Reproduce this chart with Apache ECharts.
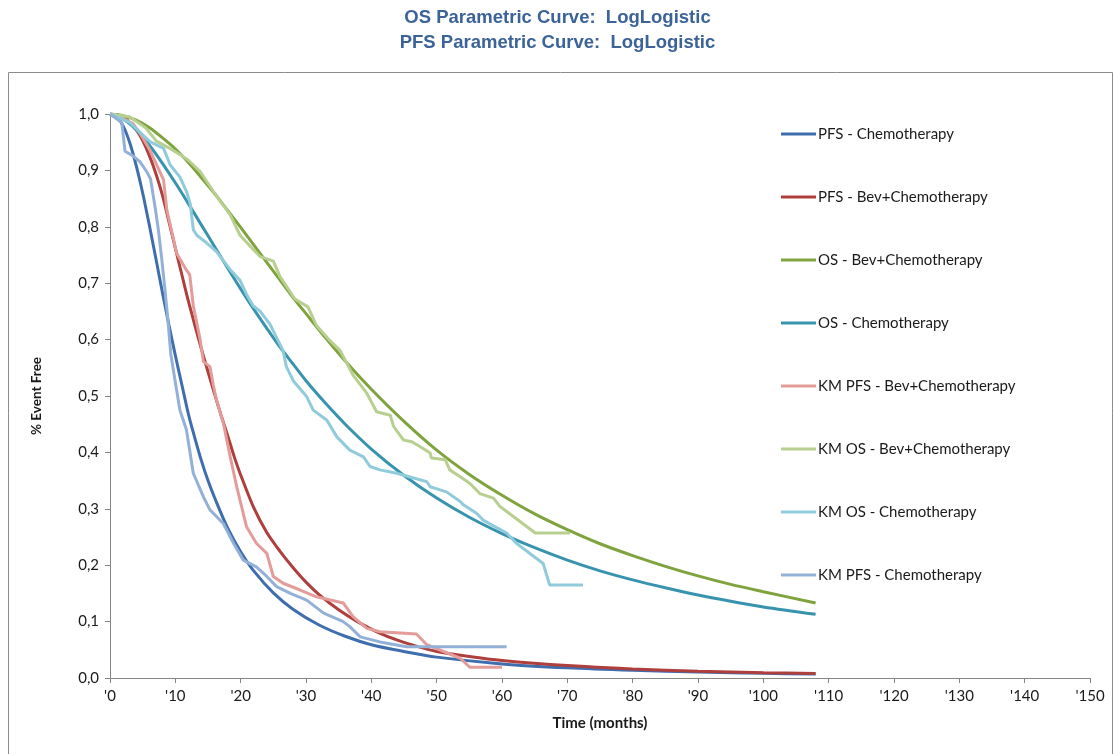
<!DOCTYPE html>
<html>
<head>
<meta charset="utf-8">
<script src="https://cdn.jsdelivr.net/npm/echarts@6/dist/echarts.min.js"></script>
<style>
  html, body { margin: 0; padding: 0; background: #fff; }
  #chart { width: 1115px; height: 754px; }
</style>
</head>
<body>
<div id="chart"></div>
<script>
// series names, in the order the legend lists them
const seriesNames = [
  'PFS - Chemotherapy',
  'PFS - Bev+Chemotherapy',
  'OS - Bev+Chemotherapy',
  'OS - Chemotherapy',
  'KM PFS - Bev+Chemotherapy',
  'KM OS - Bev+Chemotherapy',
  'KM OS - Chemotherapy',
  'KM PFS - Chemotherapy'
];

// [months, event free]
const pfsChemo = [[0,1],[1,0.995],[2,0.979],[3,0.95],[4,0.909],[5,0.86],[6,0.804],[7,0.745],[8,0.685],[9,0.627],[10,0.572],[11,0.52],[12,0.468],[13,0.425],[14,0.385],[15,0.35],[16,0.32],[18,0.266],[20,0.224],[22,0.19],[25,0.151],[28,0.122],[32,0.094],[36,0.074],[40,0.059],[45,0.047],[50,0.037],[60,0.025],[70,0.018],[80,0.0136],[90,0.0105],[100,0.0083],[108,0.0071]];

const pfsBev = [[0,1],[2,0.995],[4,0.972],[5,0.953],[6,0.927],[7,0.895],[8,0.857],[9,0.81],[10,0.762],[11,0.715],[12,0.668],[13,0.625],[14,0.583],[15,0.543],[16,0.504],[17,0.466],[18,0.43],[19,0.393],[20,0.36],[22,0.302],[24,0.258],[26,0.225],[28,0.196],[30,0.17],[32,0.148],[35,0.121],[38,0.099],[41,0.081],[44,0.067],[47,0.056],[50,0.047],[55,0.038],[60,0.031],[70,0.022],[80,0.016],[90,0.012],[100,0.0095],[108,0.008]];

const osBev = [[0,1],[2,0.997],[4,0.989],[6,0.976],[8,0.958],[10,0.938],[12,0.914],[14,0.887],[16,0.859],[18,0.829],[20,0.799],[22,0.768],[24,0.737],[26,0.706],[28,0.675],[30,0.646],[33,0.603],[36,0.562],[40,0.512],[45,0.455],[50,0.404],[55,0.361],[60,0.324],[65,0.291],[70,0.263],[75,0.238],[80,0.217],[85,0.198],[90,0.181],[95,0.166],[100,0.153],[108,0.133]];

const osChemo = [[0,1],[2,0.991],[4,0.972],[6,0.945],[8,0.913],[10,0.878],[12,0.841],[14,0.803],[16,0.765],[18,0.727],[20,0.69],[22,0.654],[24,0.62],[26,0.587],[28,0.557],[30,0.527],[33,0.487],[36,0.45],[40,0.406],[45,0.359],[50,0.319],[55,0.285],[60,0.256],[65,0.231],[70,0.209],[75,0.19],[80,0.174],[85,0.16],[90,0.147],[95,0.136],[100,0.126],[108,0.113]];

const kmPfsBev = [[0,1],[1.5,0.995],[3.5,0.983],[4.6,0.966],[6.1,0.936],[8.2,0.883],[8.7,0.83],[10.2,0.753],[11.7,0.723],[12.2,0.715],[12.75,0.66],[13.8,0.6],[14.3,0.561],[15.3,0.552],[15.8,0.52],[16.3,0.493],[17.35,0.452],[18.4,0.392],[19.4,0.339],[20.9,0.268],[22.4,0.239],[24,0.221],[25,0.18],[26.5,0.168],[29.1,0.156],[31.6,0.144],[35.7,0.133],[37.2,0.109],[39.3,0.088],[41.3,0.082],[46.9,0.078],[48.5,0.059],[53.6,0.035],[55.1,0.019],[60,0.019]];

const kmOsBev = [[0,1],[3,0.995],[5.5,0.975],[7.1,0.952],[9,0.94],[10.7,0.928],[12,0.918],[13.8,0.898],[15.8,0.863],[18.4,0.821],[19.9,0.785],[21.5,0.765],[23,0.747],[25,0.739],[26,0.712],[28.3,0.672],[30.3,0.658],[31.6,0.625],[33.5,0.6],[35.2,0.581],[37.2,0.537],[39.3,0.505],[40.8,0.472],[42.9,0.466],[43.4,0.446],[44.9,0.422],[46.2,0.419],[47.5,0.41],[49,0.399],[49.2,0.39],[51.3,0.387],[52,0.369],[53.6,0.357],[55.1,0.345],[56.6,0.327],[58.7,0.319],[59.7,0.304],[65.1,0.257],[70.4,0.257]];

const kmOsChemo = [[0,1],[3,0.985],[6.1,0.951],[8.2,0.939],[9.2,0.91],[10.7,0.888],[11.7,0.863],[12.3,0.84],[12.75,0.795],[13.3,0.785],[14.5,0.774],[16.3,0.756],[18.4,0.724],[19.9,0.705],[20.9,0.68],[21.9,0.66],[23,0.65],[24.5,0.627],[26.5,0.58],[27,0.552],[28.1,0.526],[30.1,0.499],[31.1,0.475],[33.2,0.457],[34.7,0.428],[36.7,0.404],[38.8,0.392],[39.8,0.375],[41.3,0.369],[43.9,0.363],[48.5,0.348],[49,0.339],[51.5,0.33],[53.6,0.313],[54.1,0.307],[56.1,0.292],[57.1,0.28],[60.7,0.257],[62.2,0.239],[66.3,0.203],[67.3,0.165],[72.4,0.165]];

const kmPfsChemo = [[0,1],[1.8,0.985],[2.3,0.934],[3.6,0.925],[4.6,0.915],[5.6,0.898],[6.2,0.885],[6.9,0.835],[7.4,0.795],[7.9,0.745],[8.4,0.69],[8.9,0.63],[9.3,0.575],[9.95,0.528],[10.7,0.475],[11.7,0.44],[12.75,0.363],[14.3,0.321],[15.3,0.298],[17.35,0.274],[18.9,0.239],[20.4,0.209],[22.4,0.197],[24,0.18],[25.5,0.162],[27.6,0.15],[30.1,0.138],[32.7,0.115],[35.7,0.1],[36.7,0.091],[38.3,0.073],[41.3,0.064],[45.4,0.0555],[60.7,0.0555]];

const seriesData = [pfsChemo, pfsBev, osBev, osChemo, kmPfsBev, kmOsBev, kmOsChemo, kmPfsChemo];
const seriesColors = ['#3F6EAE', '#AE3F3C', '#7FA33D', '#3894AE', '#E39C9A', '#B7CF8F', '#90CBDC', '#93B1D8'];
const smoothCurve = [true, true, true, true, false, false, false, false];

const chart = echarts.init(document.getElementById('chart'));

let series = seriesNames.map(function (name, i) {
  return {
    name: name,
    type: 'line',
    data: seriesData[i],
    smooth: smoothCurve[i] ? 0.3 : false,
    showSymbol: false,
    symbol: 'none',
    lineStyle: { color: seriesColors[i], width: 3 },
    itemStyle: { color: seriesColors[i] },
    animation: false
  };
});

chart.setOption({
  backgroundColor: '#fff',
  title: {
    text: 'OS Parametric Curve:  LogLogistic\nPFS Parametric Curve:  LogLogistic',
    left: 'center',
    top: 5,
    padding: 0,
    textStyle: {
      fontFamily: 'Liberation Sans',
      fontSize: 18.5,
      fontWeight: 'bold',
      color: '#3B639A',
      lineHeight: 25
    }
  },
  graphic: [{
    type: 'rect',
    shape: { x: 8.5, y: 72.5, width: 1104, height: 700 },
    style: { fill: 'none', stroke: '#8C8C8C', lineWidth: 1 },
    silent: true
  }],
  legend: {
    orient: 'vertical',
    left: 781,
    top: 125,
    padding: 0,
    itemWidth: 35,
    itemHeight: 3,
    itemGap: 45,
    icon: 'rect',
    data: seriesNames,
    textStyle: {
      fontFamily: 'Lato',
      fontSize: 15,
      color: '#1a1a1a',
      padding: [0, 0, 0, -3],
      lineHeight: 18
    }
  },
  grid: { left: 110, right: 25, top: 114, bottom: 76 },
  xAxis: {
    type: 'value',
    min: 0,
    max: 150,
    interval: 10,
    name: 'Time (months)',
    nameLocation: 'middle',
    nameGap: 38,
    nameTextStyle: { fontFamily: 'Lato', fontWeight: 'bold', fontSize: 15, color: '#1a1a1a' },
    axisLine: { lineStyle: { color: '#868686' } },
    axisTick: { show: true, length: 5, lineStyle: { color: '#868686' } },
    splitLine: { show: false },
    axisLabel: {
      fontFamily: 'Lato',
      fontSize: 15,
      color: '#1a1a1a',
      margin: 11,
      formatter: function (v) { return "'" + v; }
    }
  },
  yAxis: {
    type: 'value',
    min: 0,
    max: 1,
    interval: 0.1,
    name: '% Event Free',
    nameLocation: 'middle',
    nameGap: 66,
    nameTextStyle: { fontFamily: 'Lato', fontWeight: 'bold', fontSize: 13.5, color: '#1a1a1a' },
    axisLine: { show: true, lineStyle: { color: '#868686' } },
    axisTick: { show: true, length: 5, lineStyle: { color: '#868686' } },
    splitLine: { show: false },
    axisLabel: {
      fontFamily: 'Lato',
      fontSize: 15,
      color: '#1a1a1a',
      margin: 11,
      formatter: function (v) { return v.toFixed(1).replace('.', ','); }
    }
  },
  series: series
});
</script>
</body>
</html>
